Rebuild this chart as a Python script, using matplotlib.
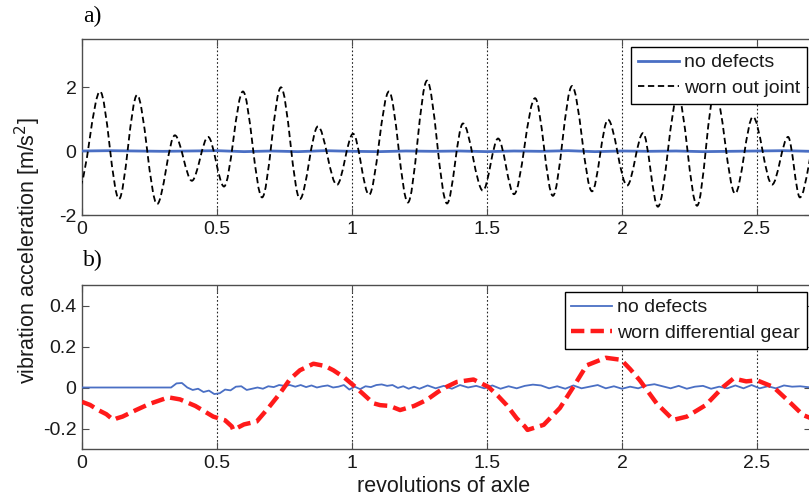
import numpy as np
import matplotlib
matplotlib.use('Agg')
import matplotlib.pyplot as plt
from matplotlib.path import Path
from matplotlib.patches import PathPatch
from matplotlib.lines import Line2D

plt.rcParams['font.family'] = ['Liberation Sans', 'DejaVu Sans']

# a) worn out joint - peaks and troughs (revs, m/s^2)
joint_x = [-0.01, 0.067, 0.137, 0.204, 0.278, 0.344, 0.407, 0.467, 0.526, 0.596,
           0.667, 0.737, 0.807, 0.874, 0.944, 1.004, 1.063, 1.137, 1.207, 1.278,
           1.352, 1.411, 1.485, 1.541, 1.600, 1.678, 1.744, 1.815, 1.889, 1.948,
           2.019, 2.078, 2.133, 2.207, 2.278, 2.344, 2.419, 2.485, 2.556, 2.615,
           2.659, 2.725]
joint_y = [-1.10, 1.86, -1.50, 1.75, -1.66, 0.49, -0.93, 0.44, -1.11, 1.86,
           -1.45, 1.99, -1.50, 0.77, -1.06, 0.54, -1.37, 1.86, -1.61, 2.20,
           -1.64, 0.86, -1.24, 0.39, -1.35, 1.65, -1.40, 2.03, -1.26, 0.98,
           -1.08, 0.56, -1.74, 1.75, -1.71, 1.90, -1.33, 1.07, -1.05, 0.44,
           -1.45, 0.60]

# a) no defects
ok_a_x = [0.0, 0.1, 0.2, 0.3, 0.4, 0.5, 0.6, 0.7, 0.8, 0.9, 1.0, 1.1, 1.2, 1.3,
          1.4, 1.5, 1.6, 1.7, 1.8, 1.9, 2.0, 2.1, 2.2, 2.3, 2.4, 2.5, 2.6, 2.7]
ok_a_y = [0.0, 0.01, 0.0, -0.01, 0.0, 0.01, -0.02, 0.0, -0.02, 0.01, -0.01, -0.02,
          0.0, -0.01, 0.0, -0.02, 0.0, -0.01, 0.01, -0.02, 0.0, -0.01, 0.0, -0.02,
          -0.01, 0.0, 0.01, -0.01]

# b) worn differential gear
gear_x = [0.0, 0.03, 0.06, 0.09, 0.116, 0.13, 0.15, 0.2, 0.25, 0.32, 0.363, 0.42,
          0.486, 0.53, 0.555, 0.56, 0.6, 0.647, 0.69, 0.733, 0.77, 0.807, 0.857,
          0.9, 0.931, 0.97, 1.005, 1.04, 1.079, 1.104, 1.14, 1.178, 1.23, 1.276,
          1.32, 1.35, 1.388, 1.45, 1.505, 1.54, 1.573, 1.61, 1.64, 1.65, 1.71,
          1.77, 1.82, 1.869, 1.94, 1.997, 2.03, 2.066, 2.128, 2.19, 2.24, 2.31,
          2.375, 2.413, 2.46, 2.5, 2.56, 2.62, 2.67, 2.7]
gear_y = [-0.07, -0.085, -0.11, -0.13, -0.158, -0.15, -0.142, -0.11, -0.08, -0.048,
          -0.058, -0.09, -0.142, -0.16, -0.19, -0.207, -0.18, -0.166, -0.1, -0.029,
          0.04, 0.084, 0.116, 0.105, 0.084, 0.05, 0.011, -0.03, -0.077, -0.086,
          -0.09, -0.11, -0.09, -0.061, -0.02, 0.003, 0.027, 0.039, 0.003, -0.04,
          -0.086, -0.15, -0.19, -0.207, -0.182, -0.10, 0.003, 0.108, 0.145, 0.135,
          0.09, 0.035, -0.077, -0.158, -0.142, -0.086, 0.003, 0.044, 0.03, 0.035,
          0.003, -0.07, -0.134, -0.15]

# b) no defects
ok_b_x = [0.0, 0.33, 0.35, 0.37, 0.39, 0.41, 0.43, 0.45, 0.47, 0.49, 0.51, 0.53,
          0.55, 0.57, 0.59, 0.61, 0.63, 0.65, 0.67, 0.69, 0.71, 0.73, 0.75, 0.77,
          0.79, 0.81, 0.83, 0.85, 0.87, 0.89, 0.91, 0.93, 0.95, 0.97, 0.99, 1.01,
          1.03, 1.05, 1.07, 1.09, 1.11, 1.13, 1.15, 1.17, 1.19, 1.21, 1.23, 1.25,
          1.28, 1.31, 1.34, 1.37, 1.40, 1.43, 1.46, 1.49, 1.52, 1.55, 1.58, 1.61,
          1.64, 1.67, 1.70, 1.73, 1.76, 1.79, 1.82, 1.85, 1.88, 1.91, 1.94, 1.97,
          2.00, 2.03, 2.06, 2.09, 2.12, 2.15, 2.18, 2.21, 2.24, 2.27, 2.30, 2.33,
          2.36, 2.39, 2.42, 2.45, 2.48, 2.51, 2.54, 2.57, 2.60, 2.63, 2.66, 2.70]
ok_b_y = [0.0, 0.0, 0.02, 0.022, 0.0, -0.012, -0.006, -0.022, -0.015, -0.032, -0.028,
          -0.01, -0.014, 0.004, 0.006, -0.012, -0.006, 0.0, -0.006, 0.006, 0.002, 0.012,
          0.008, 0.012, 0.004, 0.012, 0.002, 0.01, 0.0, 0.006, 0.01, 0.0, 0.004, 0.012,
          -0.01, 0.004, -0.008, 0.006, 0.002, 0.012, 0.015, 0.008, 0.012, -0.002, 0.006,
          -0.006, 0.004, -0.006, 0.01, -0.004, 0.008, -0.006, 0.012, 0.0, 0.008, -0.004,
          0.01, -0.006, 0.006, -0.004, 0.008, 0.014, 0.01, -0.004, 0.006, -0.006, 0.01,
          -0.004, 0.004, 0.012, -0.004, 0.006, -0.006, 0.004, -0.004, 0.01, 0.016, 0.006,
          -0.004, 0.008, -0.006, 0.004, 0.008, -0.006, 0.004, -0.004, 0.01, -0.004,
          0.012, -0.004, 0.006, -0.004, 0.01, 0.004, 0.006, 0.0]

xticks = [0, 0.5, 1, 1.5, 2, 2.5]
xticklabels = ['0', '0.5', '1', '1.5', '2', '2.5']

BLUE = '#4a6fc4'
FRAME = '#4d4d4d'
TXT = '#1a1a1a'


def smooth_path(xs, ys):
    # cubic segments with flat tangents at every extremum
    verts = [(xs[0], ys[0])]
    codes = [Path.MOVETO]
    for i in range(1, len(xs)):
        dx = (xs[i] - xs[i - 1]) / 3.0
        verts += [(xs[i - 1] + dx, ys[i - 1]), (xs[i] - dx, ys[i]), (xs[i], ys[i])]
        codes += [Path.CURVE4] * 3
    return Path(verts, codes)


def style(ax, ylim, yticks, ylabels):
    ax.set_xlim(0, 2.7)
    ax.set_ylim(*ylim)
    ax.set_xticks(xticks)
    ax.set_xticklabels(xticklabels)
    ax.set_yticks(yticks)
    ax.set_yticklabels(ylabels)
    ax.tick_params(direction='in', length=5, width=0.8, colors=FRAME, labelcolor=TXT,
                   labelsize=14, top=True, right=True, pad=4)
    for sp in ax.spines.values():
        sp.set_color(FRAME)
        sp.set_linewidth(1.0)
    for t in xticks[1:]:
        ax.axvline(t, color='#222222', lw=0.8, ls=(0, (1.5, 2.0)), zorder=1)


def add_legend(ax, handles, labels, top_px):
    leg = ax.legend(handles, labels, loc='upper right',
                    bbox_to_anchor=(807 / 809, 1 - top_px / 501),
                    bbox_transform=fig.transFigure, fontsize=14, fancybox=False,
                    framealpha=1, edgecolor='black', borderpad=0.35, labelspacing=0.42,
                    handlelength=2.1, handletextpad=0.26, borderaxespad=0)
    leg.get_frame().set_linewidth(1.0)
    for t in leg.get_texts():
        t.set_color(TXT)
    return leg


fig = plt.figure(figsize=(8.09, 5.01), dpi=100)

# a)
ax1 = fig.add_axes([82 / 809, 1 - 215 / 501, 729 / 809, 176 / 501])
style(ax1, (-2, 3.5), [-2, 0, 2], ['-2', '0', '2'])
ln_ok_a, = ax1.plot(ok_a_x, ok_a_y, color=BLUE, lw=2.0, zorder=3)
ax1.add_patch(PathPatch(smooth_path(joint_x, joint_y), fill=False, edgecolor='black',
                        lw=1.3, ls=(0, (3.5, 2.0)), zorder=4))
h_joint = Line2D([], [], color='black', lw=1.3, ls=(0, (3.5, 2.0)))
add_legend(ax1, [ln_ok_a, h_joint], ['no defects', 'worn out joint'], 47)

# b)
ax2 = fig.add_axes([82 / 809, 1 - 449 / 501, 729 / 809, 164 / 501])
style(ax2, (-0.3, 0.5), [-0.2, 0, 0.2, 0.4], ['-0.2', '0', '0.2', '0.4'])
ln_ok_b, = ax2.plot(ok_b_x, ok_b_y, color=BLUE, lw=1.3, zorder=3)
ln_gear, = ax2.plot(gear_x, gear_y, color='#ff1a1a', lw=3.2, ls=(0, (3.0, 1.4)), zorder=4)
add_legend(ax2, [ln_ok_b, ln_gear], ['no defects', 'worn differential gear'], 292)

fig.text(92 / 809, 1 - 16 / 501, 'a)', family='Liberation Serif', fontsize=17,
         ha='center', va='center')
fig.text(93 / 809, 1 - 260 / 501, 'b)', family='Liberation Serif', fontsize=17,
         ha='center', va='center')
fig.text(28 / 809, 1 - 251 / 501, 'vibration acceleration [m/s$^2$]', rotation=90,
         fontsize=15.5, ha='center', va='center', color=TXT)
fig.text(444 / 809, 1 - 486 / 501, 'revolutions of axle', fontsize=15.5,
         ha='center', va='center', color=TXT)

fig.savefig('out.png', dpi=100)
